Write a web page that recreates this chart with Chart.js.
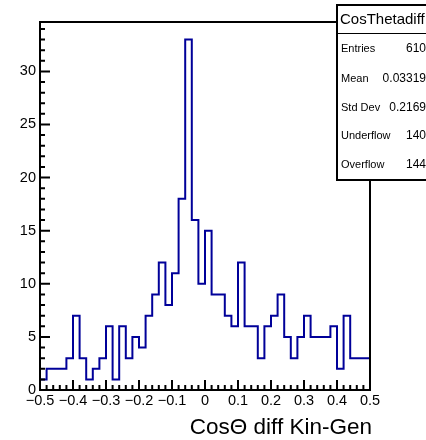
<!DOCTYPE html>
<html>
<head>
<meta charset="utf-8">
<script src="https://cdn.jsdelivr.net/npm/chart.js@4"></script>
<style>
  html, body { margin: 0; padding: 0; background: #fff; }
  canvas { display: block; }
</style>
</head>
<body>
<canvas id="c" width="426" height="440"></canvas>
<script>
// histogram content, 50 bins from -0.5 to 0.5
var binCounts = [0, 1, 2, 2, 2, 3, 7, 3, 1, 2,
                 3, 6, 1, 6, 3, 5, 4, 7, 9, 12,
                 8, 11, 18, 33, 16, 10, 15, 9, 9, 7,
                 6, 12, 6, 6, 3, 6, 7, 9, 5, 3,
                 5, 7, 5, 5, 5, 6, 2, 7, 3, 3];
var xMin = -0.5, xMax = 0.5;
var yMax = 34.65;
var xTicks = [-0.5, -0.4, -0.3, -0.2, -0.1, 0, 0.1, 0.2, 0.3, 0.4, 0.5];
var yTicks = [0, 5, 10, 15, 20, 25, 30];
var xTitle = "Cos\u0398 diff Kin-Gen";
var histName = "CosThetadiff";
var statNames = ["Entries", "Mean", "Std Dev", "Underflow", "Overflow"];
var statValues = ["610", "0.03319", "0.2169", "140", "144"];

var FONT = "'Liberation Sans', Arial, Helvetica, sans-serif";
var binWidth = (xMax - xMin) / binCounts.length;

var points = binCounts.map(function(c, i) {
    return {x: xMin + i * binWidth, y: c};
});
points.push({x: xMax, y: binCounts[binCounts.length - 1]});

function fmtX(v) {
    if (Math.abs(v) < 1e-9) return "0";
    return v.toFixed(1).replace("-", "\u2212");
}

// frame, inward ticks, labels, stats box
var rootPlugin = {
    id: "rootstyle",
    afterDatasetsDraw: function(chart) {
        var ctx = chart.ctx, a = chart.chartArea;
        var xs = chart.scales.x, ys = chart.scales.y;
        var i, v, px, len;
        ctx.save();
        ctx.strokeStyle = "#000";
        ctx.lineWidth = 2;
        ctx.strokeRect(a.left, a.top, a.right - a.left, a.bottom - a.top);
        ctx.beginPath();
        for (i = 0; i <= 50; i++) {
            v = xMin + i * 0.02;
            px = xs.getPixelForValue(v);
            len = (i % 5 === 0) ? 10 : 5;
            ctx.moveTo(px, a.bottom);
            ctx.lineTo(px, a.bottom - len);
        }
        for (i = 0; i <= 34; i++) {
            px = ys.getPixelForValue(i);
            len = (i % 5 === 0) ? 10 : 5;
            ctx.moveTo(a.left, px);
            ctx.lineTo(a.left + len, px);
        }
        ctx.stroke();

        ctx.fillStyle = "#000";
        ctx.textBaseline = "middle";
        ctx.font = "14.5px " + FONT;
        ctx.textAlign = "center";
        xTicks.forEach(function(t) {
            ctx.fillText(fmtX(t), xs.getPixelForValue(t), a.bottom + 11);
        });
        ctx.textAlign = "right";
        yTicks.forEach(function(t) {
            ctx.fillText(String(t), a.left - 4, ys.getPixelForValue(t));
        });
        ctx.font = "22.5px " + FONT;
        ctx.fillText(xTitle, a.right + 2, a.bottom + 38);
        ctx.restore();
    },
    afterDraw: function(chart) {
        var ctx = chart.ctx;
        var bx = 337, by = 5, bw = 100, bh = 175;
        ctx.save();
        ctx.fillStyle = "#fff";
        ctx.fillRect(bx, by, bw, bh);
        ctx.strokeStyle = "#000";
        ctx.lineWidth = 2;
        ctx.strokeRect(bx, by, bw, bh);
        ctx.lineWidth = 1;
        ctx.beginPath();
        ctx.moveTo(bx, 33.5);
        ctx.lineTo(bx + bw, 33.5);
        ctx.stroke();
        ctx.fillStyle = "#000";
        ctx.textBaseline = "middle";
        ctx.font = "15px " + FONT;
        ctx.textAlign = "left";
        ctx.fillText(histName, 340, 19.5);
        var rowY = [49, 79, 108, 136, 164.5];
        for (var i = 0; i < statNames.length; i++) {
            ctx.font = "11px " + FONT;
            ctx.textAlign = "left";
            ctx.fillText(statNames[i], 341, rowY[i]);
            ctx.font = "12px " + FONT;
            ctx.textAlign = "right";
            ctx.fillText(statValues[i], 426, rowY[i]);
        }
        ctx.restore();
    }
};

new Chart(document.getElementById("c"), {
    type: "line",
    data: {
        datasets: [{
            data: points,
            stepped: "after",
            borderColor: "#000099",
            borderWidth: 2,
            pointRadius: 0,
            fill: false,
            tension: 0
        }]
    },
    options: {
        responsive: false,
        animation: false,
        layout: { padding: { left: 40, top: 22, right: 56, bottom: 50 } },
        plugins: { legend: { display: false }, tooltip: { enabled: false } },
        scales: {
            x: { type: "linear", min: xMin, max: xMax, display: false },
            y: { type: "linear", min: 0, max: yMax, display: false }
        }
    },
    plugins: [rootPlugin]
});
</script>
</body>
</html>
